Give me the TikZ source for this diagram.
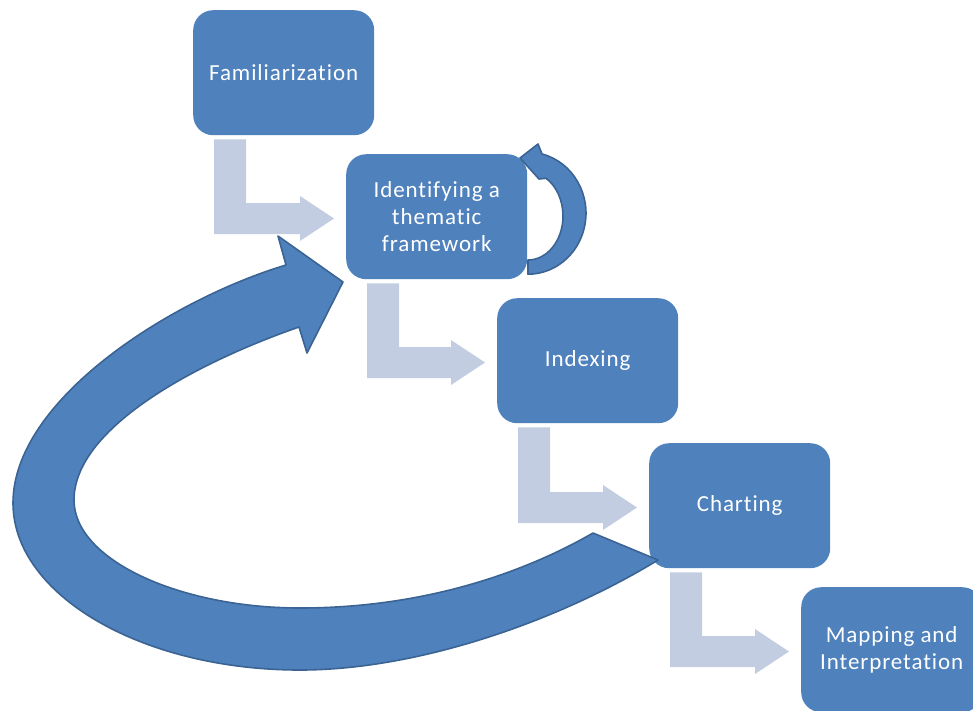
\documentclass[tikz,border=0pt]{standalone}
\usepackage{fontspec}
\setmainfont[LetterSpace=4, Ligatures={NoCommon,NoContextual}]{Carlito}
\usetikzlibrary{calc}
\definecolor{boxblue}{HTML}{4F81BD}
\definecolor{edgeblue}{HTML}{3B6494}
\definecolor{paleblue}{HTML}{C3CDE1}
\newcommand{\bentarrow}[2]{%
  \fill[paleblue] let \p1=(#1.south west), \p2=(#2.north west) in
   (\x1+21pt,\y1-4pt) -- (\x1+53pt,\y1-4pt) -- (\x1+53pt,\y2-49pt)
   -- (\x2-46pt,\y2-49pt) -- (\x2-46pt,\y2-42pt) -- (\x2-12pt,\y2-64.5pt)
   -- (\x2-46pt,\y2-87pt) -- (\x2-46pt,\y2-80pt) -- (\x1+21pt,\y2-80pt) -- cycle;}
\begin{document}
\begin{tikzpicture}[x=1pt,y=1pt,
  stepbox/.style={anchor=north west, rounded corners=20pt, fill=boxblue,
    minimum width=181pt, minimum height=125pt, inner sep=0pt, align=center,
    text=white, font=\fontsize{23}{27}\selectfont},
  loopband/.style={fill=boxblue, draw=edgeblue, line width=1.6pt, line join=round}]
\useasboundingbox (0,0) rectangle (973,-710);
\clip (0,0) rectangle (973,-710);
\node[stepbox] (fam) at (193,-10) {Familiarization};
\node[stepbox] (idf) at (346,-154) {Identifying a\\thematic\\framework};
\node[stepbox] (idx) at (497,-298) {Indexing};
\node[stepbox] (cht) at (649,-443) {Charting};
\node[stepbox] (map) at (801,-587) {Mapping and\\Interpretation};
\bentarrow{fam}{idf}
\bentarrow{idf}{idx}
\bentarrow{idx}{cht}
\bentarrow{cht}{map}
% big feedback arrow from Charting back to Identifying
\draw[loopband] (593,-533) .. controls (520,-575) and (420,-608) .. (300,-608)
  .. controls (180,-608) and (74,-560) .. (74,-500)
  .. controls (74,-430) and (190,-365) .. (299,-327)
  -- (307,-353) -- (343,-282) -- (278,-236) -- (286,-265)
  .. controls (170,-300) and (13,-400) .. (13,-503)
  .. controls (13,-595) and (142,-670) .. (300,-670)
  .. controls (420,-670) and (560,-620) .. (658,-560) -- cycle;
% small loop arrow on Identifying
\draw[loopband] (520,-158) -- (538,-144) -- (542,-154)
  arc[start angle=76, end angle=-90, x radius=58, y radius=61]
  -- (528,-260)
  arc[start angle=-90, end angle=59, x radius=35, y radius=44]
  -- (539,-179) -- cycle;
\end{tikzpicture}
\end{document}
